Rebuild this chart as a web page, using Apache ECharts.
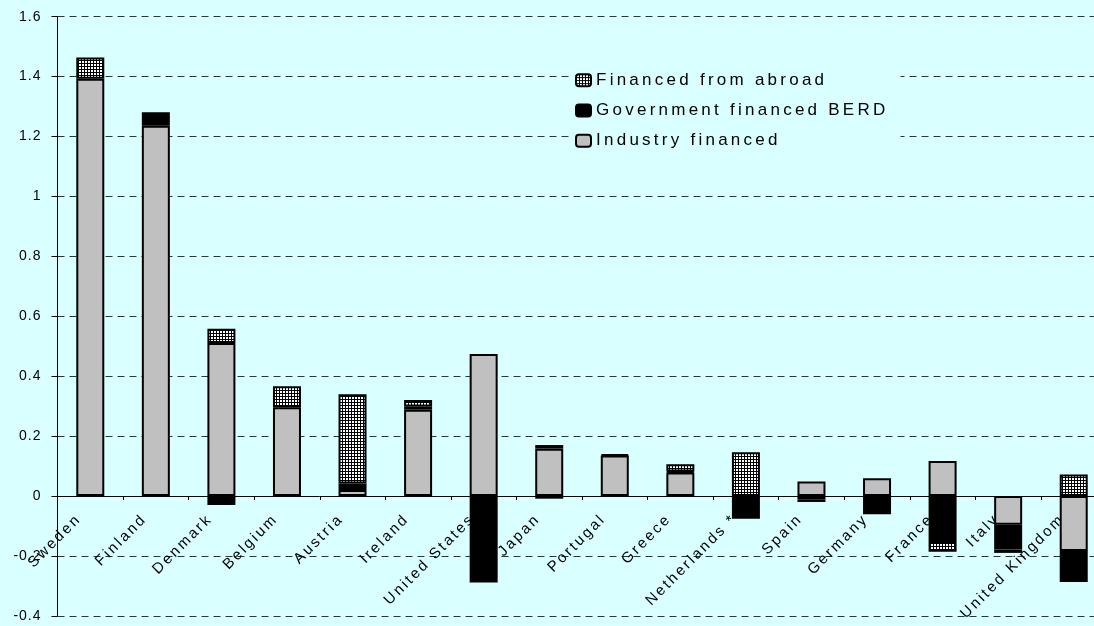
<!DOCTYPE html>
<html>
<head>
<meta charset="utf-8">
<title>BERD by source of funds</title>
<script src="https://cdn.jsdelivr.net/npm/echarts@6/dist/echarts.min.js"></script>
<style>
  html, body { margin: 0; padding: 0; background: #d9ffff; overflow: hidden; }
  /* the original plot runs past the right edge of the picture */
  #chart { width: 1107px; height: 626px; }
</style>
</head>
<body>
<div id="chart"></div>
<script>
// countries, left to right
var categories = ['Sweden', 'Finland', 'Denmark', 'Belgium', 'Austria', 'Ireland', 'United States', 'Japan',
  'Portugal', 'Greece', 'Netherlands *', 'Spain', 'Germany', 'France', 'Italy', 'United Kingdom']
// stacked components ('-' = nothing drawn)
var industry = [1.393, 1.236, 0.511, 0.296, 0.020, 0.288, 0.474, 0.158, 0.135, 0.078, '-', 0.048, 0.059, 0.117, -0.096, -0.184]
var government = ['-', 0.045, -0.030, '-', 0.022, 0.011, -0.289, 0.012, 0.004, 0.004, -0.076, -0.011, -0.061, -0.154, -0.083, -0.103]
var abroad = [0.071, '-', 0.047, 0.070, 0.298, 0.021, '-', -0.009, '-', 0.024, 0.146, -0.009, '-', -0.032, -0.011, 0.072]
var seriesNames = ['Industry financed', 'Government financed BERD', 'Financed from abroad']
var yMin = -0.4
var yMax = 1.6

// the original (excel) text is drawn letter-spaced, echarts has no option for it,
// so set canvas letterSpacing by font size for both drawing and measuring
var spacing = { 17: '3.25px', 15: '2.4px', 14: '1px' }
function spaced (fn) {
  return function () {
    var m = /(\d+)px/.exec(this.font)
    this.letterSpacing = (m && spacing[m[1]]) || '0px'
    return fn.apply(this, arguments)
  }
}
var proto = CanvasRenderingContext2D.prototype
proto.fillText = spaced(proto.fillText)
proto.measureText = spaced(proto.measureText)

// little grid hatch like the excel pattern fill
function hatch () {
  var c = document.createElement('canvas')
  c.width = 3
  c.height = 3
  var ctx = c.getContext('2d')
  ctx.fillStyle = '#000'
  ctx.fillRect(0, 0, 3, 3)
  ctx.fillStyle = '#fff'
  ctx.fillRect(1, 1, 2, 2)
  return c
}

var font = "'Liberation Sans', Arial, sans-serif"
var gridTop = 16.7
var gridBottom = 10.2
var el = document.getElementById('chart')
var chart = echarts.init(el)

// v6 keeps category labels at the grid edge even with onZero,
// so lift the whole x axis up to the zero line instead
var plotH = el.clientHeight - gridTop - gridBottom
var zeroLift = plotH * (0 - yMin) / (yMax - yMin)

function bar (name, data, color) {
  return {
    name: name,
    type: 'bar',
    stack: 'total',
    data: data,
    barWidth: 28,
    itemStyle: {
      color: color,
      borderColor: '#000',
      borderWidth: 2
    }
  }
}

chart.setOption({
  animation: false,
  backgroundColor: '#d9ffff',
  textStyle: { fontFamily: font },
  grid: {
    left: 57.5,
    right: 0.5,
    top: gridTop,
    bottom: gridBottom,
    outerBoundsMode: 'none'
  },
  legend: {
    orient: 'vertical',
    left: 570,
    top: 61,
    padding: [9, 12, 7, 5],
    itemWidth: 15,
    itemHeight: 12,
    itemGap: 10,
    backgroundColor: '#d9ffff',
    data: ['Financed from abroad', 'Government financed BERD', 'Industry financed'],
    textStyle: { fontSize: 17, color: '#000', fontFamily: font }
  },
  xAxis: {
    type: 'category',
    data: categories,
    offset: -zeroLift,
    axisLine: { onZero: false, lineStyle: { color: '#000', width: 1 } },
    axisTick: { show: true, interval: 0, length: 4, lineStyle: { color: '#000' } },
    axisLabel: {
      interval: 0,
      rotate: 45,
      margin: 9.5,
      padding: [0, 16, 0, 0],
      fontSize: 15,
      color: '#000',
      fontFamily: font
    },
    splitLine: { show: false }
  },
  yAxis: {
    type: 'value',
    min: yMin,
    max: yMax,
    interval: 0.2,
    axisLine: { show: true, lineStyle: { color: '#000', width: 1 } },
    axisTick: { show: true, length: 6, lineStyle: { color: '#000' } },
    axisLabel: { margin: 16, fontSize: 14, color: '#000', fontFamily: font },
    splitLine: { show: true, lineStyle: { color: '#333', type: [7, 5], width: 1 } }
  },
  series: [
    bar(seriesNames[0], industry, '#c0c0c0'),
    bar(seriesNames[1], government, '#000'),
    bar(seriesNames[2], abroad, { image: hatch(), repeat: 'repeat' })
  ]
})
</script>
</body>
</html>
